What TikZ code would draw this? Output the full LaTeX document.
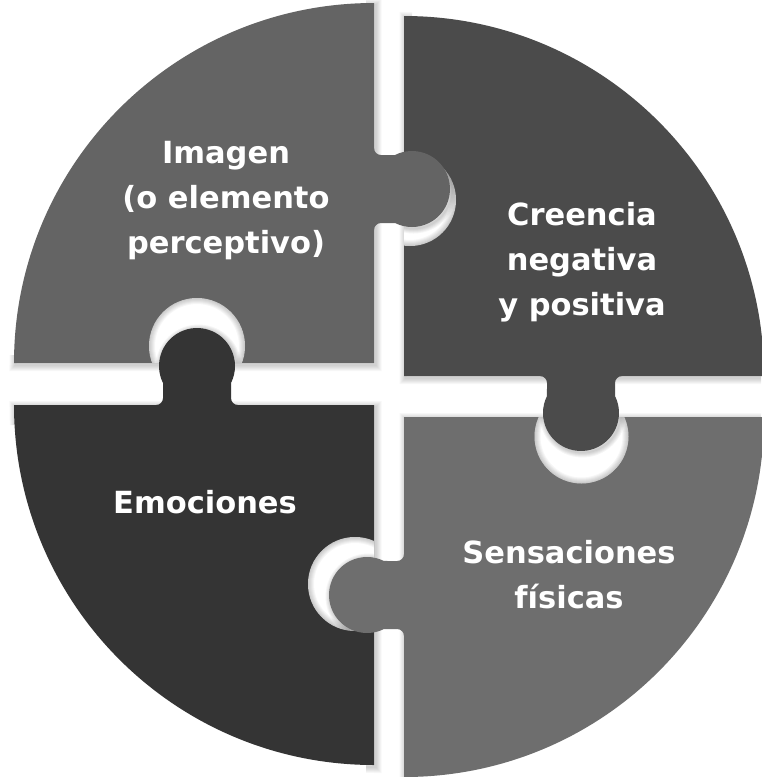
\documentclass[tikz,border=0pt]{standalone}
\usepackage{fontspec}
\setmainfont{DejaVu Sans}
\definecolor{cTL}{HTML}{646464}
\definecolor{cTR}{HTML}{4B4B4B}
\definecolor{cBL}{HTML}{343434}
\definecolor{cBR}{HTML}{6E6E6E}
\tikzset{
  qTL/.style={insert path={(374,-363) -- (14,-363) arc[start angle=180,end angle=90,radius=360] -- cycle}},
  qTR/.style={insert path={(404,-376) -- (404,-16) arc[start angle=90,end angle=0,radius=360] -- cycle}},
  qBL/.style={insert path={(374,-405) -- (14,-405) arc[start angle=180,end angle=270,radius=360] -- cycle}},
  qBR/.style={insert path={(404,-417) -- (764,-417) arc[start angle=0,end angle=-90,radius=360] -- cycle}},
  knobpath/.style={insert path={(-3,41) -- (0,41) arc[start angle=180,end angle=270,radius=7] -- ({#1-16.97},34) arc[start angle=116.5,end angle=-116.5,radius=38] -- (7,-34) arc[start angle=90,end angle=180,radius=7] -- (-3,-41) -- cycle}},
  lbl/.style={text=white, font=\bfseries\fontsize{30.5}{45}\selectfont, align=center, inner sep=0pt}
}
\newcommand\pieceshadow[1]{\foreach \k in {1,...,6} {\draw[black, opacity=0.03, line width=2*\k, shift={(1.5,-2)}, #1];}}
% #1 host quarter, #2 #3 hole centre, #4 hole radius, #5 #6 knob edge point, #7 rotation, #8 knob depth, #9 colour
\newcommand\puzzlejoint[9]{%
  \begin{scope}
    \clip[#1];
    \fill[white] (#2,#3) circle (#4);
    \clip (#2,#3) circle (#4);
    \foreach \k in {1,...,6} {\draw[black, opacity=0.035, line width=2*\k] (#2,#3) circle (#4);}
    \foreach \k in {1,...,5} {\draw[black, opacity=0.04, line width=2*\k, shift={(#5+1.5,#6-1.5)}, rotate=#7, knobpath=#8];}
  \end{scope}
  \fill[#9, shift={(#5,#6)}, rotate=#7, knobpath=#8];
}
\begin{document}
\begin{tikzpicture}[x=1pt,y=1pt]
\useasboundingbox (0,0) rectangle (761,-777);
\fill[white] (0,0) rectangle (761,-777);
% soft shadows of the four pieces, only inside the gaps
\begin{scope}
  \clip (366,0) rectangle (412,-777) (0,-355) rectangle (761,-425);
  \pieceshadow{qTL}
  \pieceshadow{qTR}
  \pieceshadow{qBL}
  \pieceshadow{qBR}
\end{scope}
% the four quarter pieces
\fill[cTL, qTL];
\fill[cTR, qTR];
\fill[cBL, qBL];
\fill[cBR, qBR];
% joints: socket in host piece + knob of neighbour
\puzzlejoint{qTR}{410}{-200}{46}{374}{-189}{0}{38}{cTL}
\puzzlejoint{qTL}{197}{-346}{48}{197}{-405}{90}{39}{cBL}
\puzzlejoint{qBR}{581.5}{-436.5}{47}{581}{-376}{-90}{37}{cTR}
\puzzlejoint{qBL}{355}{-584}{47}{404}{-595}{180}{37}{cBR}
% labels
\node[lbl, anchor=north] (imagen) at (226,-141) {Imagen\\(o elemento\\perceptivo)};
\node[lbl, anchor=north] (creencia) at (582,-202.5) {Creencia\\negativa\\y positiva};
\node[lbl, anchor=base] (emociones) at (205,-513) {Emociones};
\node[lbl, anchor=north] (sensaciones) at (569,-540.5) {Sensaciones\\físicas};
\end{tikzpicture}
\end{document}
